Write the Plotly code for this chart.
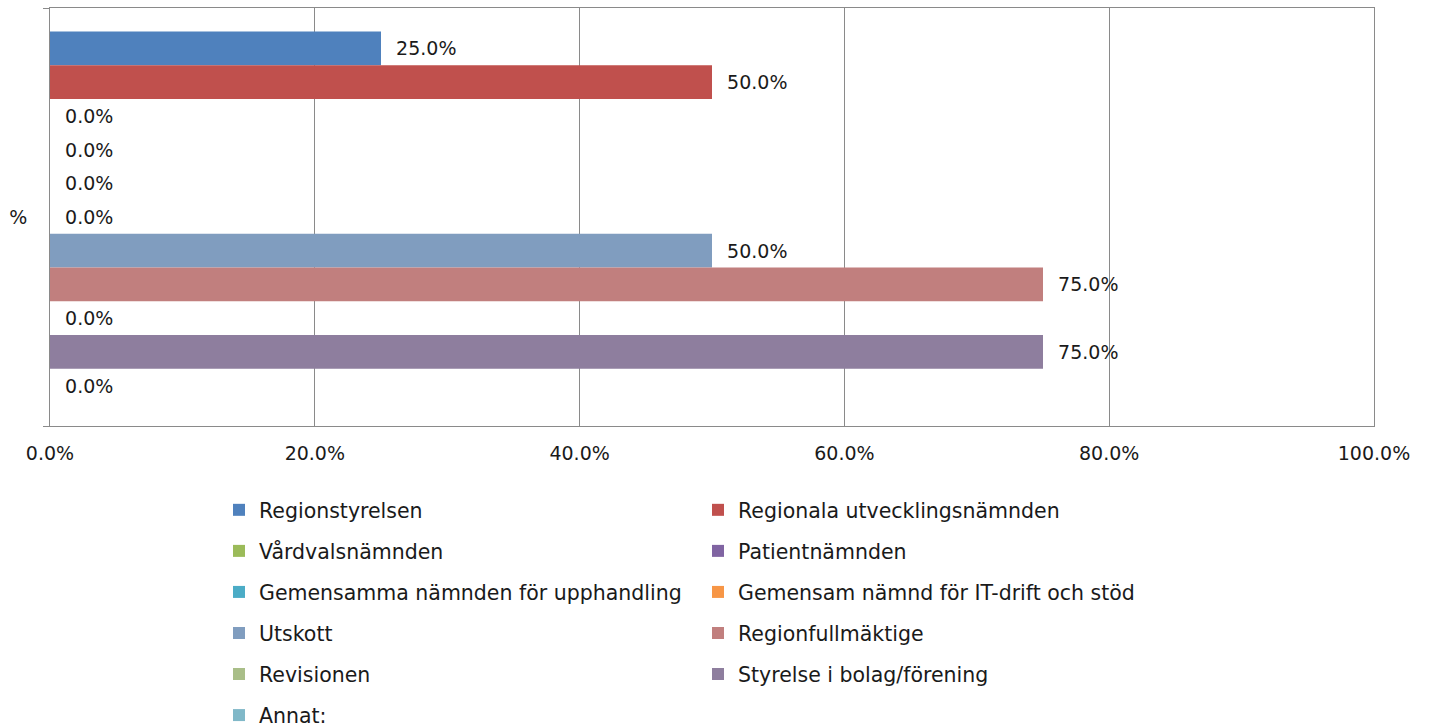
import plotly.graph_objects as go

category = ["%"]
series_names = [
    "Regionstyrelsen",
    "Regionala utvecklingsnämnden",
    "Vårdvalsnämnden",
    "Patientnämnden",
    "Gemensamma nämnden för upphandling",
    "Gemensam nämnd för IT-drift och stöd",
    "Utskott",
    "Regionfullmäktige",
    "Revisionen",
    "Styrelse i bolag/förening",
    "Annat:",
]
series_values = [0.25, 0.50, 0.0, 0.0, 0.0, 0.0, 0.50, 0.75, 0.0, 0.75, 0.0]
series_colors = [
    "#4F81BD", "#C0504D", "#9BBB59", "#8064A2", "#4BACC6", "#F79646",
    "#809DBF", "#C17F7E", "#A9BE88", "#8E7E9E", "#80B8C8",
]
x_tick_values = [0, 0.2, 0.4, 0.6, 0.8, 1.0]

FONT = "DejaVu Sans"
TXT = "#1a1a1a"
GRID = "#8a8a8a"

fig = go.Figure()
for i, (name, val, col) in enumerate(zip(series_names, series_values, series_colors)):
    fig.add_trace(go.Bar(
        y=category, x=[val], name=name, orientation="h",
        marker=dict(color=col, line=dict(width=0)),
        text=[val], texttemplate="\u00a0\u00a0%{x:.1%}",
        textposition="outside", cliponaxis=False, constraintext="none",
        textfont=dict(family=FONT, size=19, color=TXT),
        legend="legend" if i % 2 == 0 else "legend2",
        legendgroup=name,
    ))

fig.update_layout(
    width=1430, height=728,
    margin=dict(l=50, r=56, t=8, b=302, autoexpand=False),
    paper_bgcolor="white", plot_bgcolor="white",
    barmode="group", bargap=0.112, bargroupgap=0,
    font=dict(family=FONT, size=19, color=TXT),
    xaxis=dict(
        range=[0, 1], tickvals=x_tick_values, tickformat=".1%",
        showgrid=True, gridcolor=GRID, gridwidth=1,
        showline=True, linecolor=GRID, linewidth=1, mirror=True,
        ticks="", zeroline=False, automargin=False,
        tickfont=dict(family=FONT, size=19, color=TXT),
        ticklabelstandoff=10,
    ),
    yaxis=dict(
        autorange="reversed", type="category",
        showline=True, linecolor=GRID, linewidth=1, mirror=True,
        ticks="outside", ticklen=6, tickcolor=GRID, tickson="boundaries",
        showgrid=False, automargin=False,
        tickfont=dict(family=FONT, size=19, color=TXT),
        ticklabelstandoff=18,
    ),
    legend=dict(
        orientation="v", x=(219 - 50) / 1324, xanchor="left",
        y=(426 - 490) / 418, yanchor="top",
        font=dict(family=FONT, size=20.5, color=TXT),
        tracegroupgap=11.4, bgcolor="rgba(0,0,0,0)",
    ),
    legend2=dict(
        orientation="v", x=(698 - 50) / 1324, xanchor="left",
        y=(426 - 490) / 418, yanchor="top",
        font=dict(family=FONT, size=20.5, color=TXT),
        tracegroupgap=11.4, bgcolor="rgba(0,0,0,0)",
    ),
    showlegend=True,
)

fig.write_html(
    "out.html",
    config={"displayModeBar": False},
    post_script="document.body.style.margin='0';document.body.style.overflow='hidden';",
)
